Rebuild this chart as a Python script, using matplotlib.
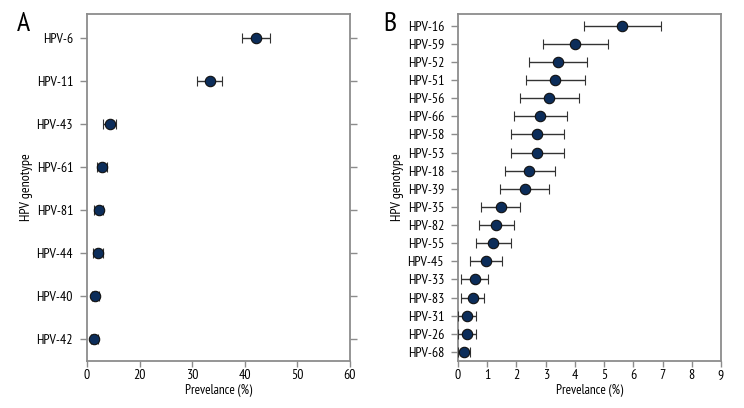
import matplotlib.pyplot as plt
import numpy as np
from matplotlib import font_manager

# panel A: low-risk genotypes
a_labels = ["HPV-6", "HPV-11", "HPV-43", "HPV-61", "HPV-81", "HPV-44", "HPV-40", "HPV-42"]
a_prev = [42.1, 33.3, 4.3, 2.8, 2.2, 2.1, 1.5, 1.3]
a_low = [39.4, 31.0, 3.1, 1.9, 1.4, 1.2, 0.9, 0.7]
a_high = [44.8, 35.7, 5.5, 3.8, 3.1, 3.0, 2.3, 2.1]
a_ticks = [0, 20, 30, 40, 50, 60]

# panel B: high-risk genotypes
b_labels = ["HPV-16", "HPV-59", "HPV-52", "HPV-51", "HPV-56", "HPV-66", "HPV-58",
            "HPV-53", "HPV-18", "HPV-39", "HPV-35", "HPV-82", "HPV-55", "HPV-45",
            "HPV-33", "HPV-83", "HPV-31", "HPV-26", "HPV-68"]
b_prev = [5.6, 4.0, 3.42, 3.31, 3.11, 2.82, 2.7, 2.7, 2.44, 2.28, 1.47, 1.31, 1.21,
          0.97, 0.58, 0.51, 0.32, 0.32, 0.22]
b_low = [4.32, 2.91, 2.42, 2.33, 2.12, 1.9, 1.8, 1.8, 1.62, 1.43, 0.8, 0.71, 0.6,
         0.4, 0.11, 0.11, 0.0, 0.0, 0.0]
b_high = [6.93, 5.12, 4.42, 4.33, 4.13, 3.73, 3.63, 3.63, 3.33, 3.11, 2.12, 1.93, 1.8,
          1.52, 1.03, 0.89, 0.63, 0.63, 0.41]
b_ticks = list(range(10))

# narrow sans to stand in for Myriad Condensed
fams = {f.name for f in font_manager.fontManager.ttflist}
narrow = ["Myriad Pro", "PT Sans Narrow", "Fira Sans Condensed", "Roboto Condensed",
          "Open Sans Condensed", "Archivo Narrow", "Liberation Sans Narrow",
          "Encode Sans Condensed", "Asap Condensed"]
chosen = next((f for f in narrow if f in fams), None)
if chosen:
    plt.rcParams['font.family'] = [chosen, 'DejaVu Sans']
    FS = 10
else:
    plt.rcParams['font.family'] = ['Liberation Sans', 'DejaVu Sans']
    FS = 8.5

SPINE = "#8c8c8c"
NAVY = "#0c2d5a"


# the left panel skips 10..20 on its x axis
def fwd(x):
    x = np.asarray(x, dtype=float)
    return np.where(x <= 10, x, np.where(x >= 20, x - 10, 10))


def inv(y):
    y = np.asarray(y, dtype=float)
    return np.where(y <= 10, y, y + 10)


def panel(ax, labels, prev, low, high, right_ticks):
    y = np.arange(len(labels))
    prev = np.array(prev)
    err = [prev - np.array(low), np.array(high) - prev]
    ax.errorbar(prev, y, xerr=err, fmt='o', ms=7.5, mfc=NAVY, mec="#111111", mew=0.8,
                ecolor="#333333", elinewidth=1.0, capsize=3.5, capthick=1.0, zorder=3)
    ax.set_yticks(y)
    ax.set_yticklabels(labels, fontsize=FS)
    ax.invert_yaxis()
    for s in ax.spines.values():
        s.set_color(SPINE)
        s.set_linewidth(1.3)
    ax.tick_params(axis='both', color=SPINE, width=1.0, length=5, labelsize=FS,
                   direction='out')
    ax.tick_params(axis='y', right=right_ticks, pad=5)
    ax.tick_params(axis='x', length=4, pad=2)
    ax.set_xlabel("Prevelance (%)", fontsize=FS - 0.5, labelpad=1)
    ax.set_ylabel("HPV genotype", fontsize=FS, labelpad=0)
    ax.yaxis.set_label_coords(-0.205, 0.5)


fig = plt.figure(figsize=(7.44, 4.08), dpi=100)

axA = fig.add_axes([87 / 744, 47 / 408, 263 / 744, 347 / 408])
axA.set_xscale('function', functions=(fwd, inv))
panel(axA, a_labels, a_prev, a_low, a_high, True)
axA.set_xlim(0, 60)
axA.set_xticks(a_ticks)
axA.set_xticklabels([str(t) for t in a_ticks])
axA.set_ylim(7.5, -0.55)

axB = fig.add_axes([458 / 744, 47 / 408, 263 / 744, 347 / 408])
panel(axB, b_labels, b_prev, b_low, b_high, False)
axB.set_xlim(0, 9)
axB.set_xticks(b_ticks)
axB.set_ylim(18.5, -0.65)

fig.text(17 / 744, 1 - 31 / 408, "A", fontsize=20)
fig.text(383 / 744, 1 - 31 / 408, "B", fontsize=20)

fig.savefig("out.png", dpi=100)
